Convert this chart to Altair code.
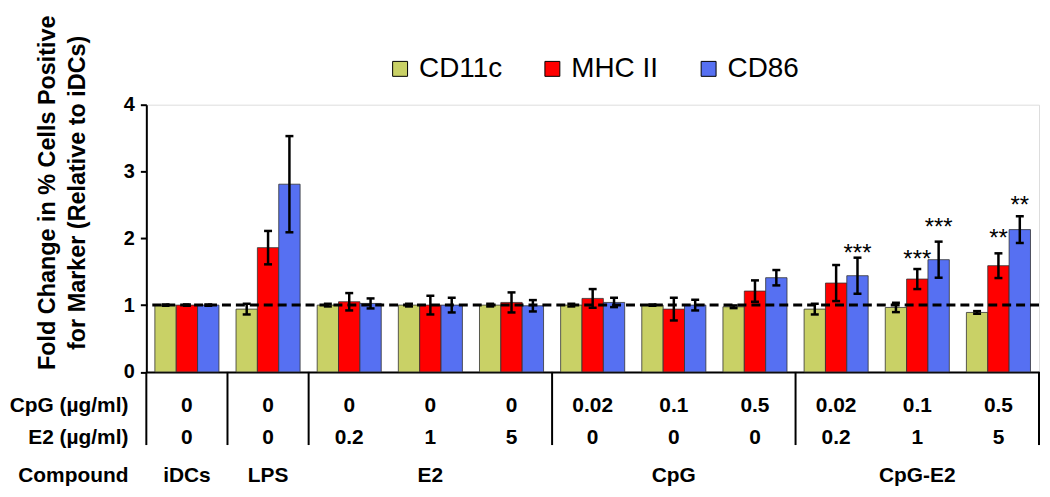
import altair as alt
import pandas as pd

groups = ["iDCs", "LPS", "E2 0.2", "E2 1", "E2 5", "CpG 0.02", "CpG 0.1", "CpG 0.5",
          "CpG-E2 0.02", "CpG-E2 0.1", "CpG-E2 0.5"]
series = ["CD11c", "MHC II", "CD86"]
colors = ["#c9d166", "#ff0000", "#5670f2"]

cd11c = [1.00, 0.94, 1.00, 1.00, 1.00, 1.00, 1.00, 0.975, 0.94, 0.965, 0.89]
cd11c_err = [0.01, 0.08, 0.02, 0.02, 0.02, 0.02, 0.01, 0.02, 0.08, 0.07, 0.02]
mhc = [1.00, 1.86, 1.05, 1.00, 1.04, 1.10, 0.94, 1.21, 1.33, 1.39, 1.59]
mhc_err = [0.01, 0.25, 0.13, 0.14, 0.15, 0.14, 0.17, 0.16, 0.27, 0.15, 0.185]
cd86 = [1.00, 2.81, 1.025, 1.00, 0.99, 1.04, 1.00, 1.41, 1.44, 1.68, 2.13]
cd86_err = [0.01, 0.72, 0.075, 0.11, 0.085, 0.07, 0.08, 0.115, 0.27, 0.27, 0.20]

cpg_row = ["0", "0", "0", "0", "0", "0.02", "0.1", "0.5", "0.02", "0.1", "0.5"]
e2_row = ["0", "0", "0.2", "1", "5", "0", "0", "0", "0.2", "1", "5"]
compound_groups = ["iDCs", "LPS", "E2 1", "CpG 0.1", "CpG-E2 0.1"]
compound_names = ["iDCs", "LPS", "E2", "CpG", "CpG-E2"]
row_titles = ["CpG (\u00b5g/ml)", "E2 (\u00b5g/ml)", "Compound"]

sig_groups = ["CpG-E2 0.02", "CpG-E2 0.1", "CpG-E2 0.1", "CpG-E2 0.5", "CpG-E2 0.5"]
sig_series = ["CD86", "MHC II", "CD86", "MHC II", "CD86"]
sig_text = ["***", "***", "***", "**", "**"]
sig_pos = [1.86, 1.76, 2.25, 2.08, 2.57]

sep_left = ["iDCs", "LPS", "E2 0.2", "CpG 0.02", "CpG-E2 0.02"]
sep_right = ["CpG-E2 0.5"]

rows = []
for s, vals, errs in zip(series, [cd11c, mhc, cd86], [cd11c_err, mhc_err, cd86_err]):
    for g, v, e in zip(groups, vals, errs):
        rows.append({"g": g, "s": s, "v": v, "lo": v - e, "hi": v + e})
df = pd.DataFrame(rows)

W, H = 897, 268.5
FONT = "Liberation Sans"

xs = alt.Scale(domain=groups, paddingInner=0, paddingOuter=0)
xo = alt.Scale(domain=series, paddingInner=0, paddingOuter=0.4)
ys = alt.Scale(domain=[0, 4], nice=False)

X = alt.X("g:N", scale=xs, axis=alt.Axis(labels=False, ticks=False, title=None,
                                         domainColor="black", domainWidth=2))
XO = alt.XOffset("s:N", scale=xo)

bars = alt.Chart(df).mark_bar(stroke="#333333", strokeWidth=0.8).encode(
    x=X, xOffset=XO,
    y=alt.Y("v:Q", scale=ys, axis=alt.Axis(
        values=[0, 1, 2, 3, 4], format="d", grid=False, domainColor="black", domainWidth=2,
        tickColor="black", tickWidth=2, tickSize=6, labelFontSize=20, labelFont=FONT,
        labelFontWeight="bold", labelColor="black", labelPadding=6,
        title=["Fold Change in % Cells Positive", "for Marker (Relative to iDCs)"],
        titleFontSize=23.5, titleFont=FONT, titleFontWeight="bold", titleColor="black",
        titleLineHeight=30, titleX=-99, titleY=88, titleAngle=270,
        titleAlign="center", titleBaseline="middle")),
    color=alt.Color("s:N", scale=alt.Scale(domain=series, range=colors),
                    legend=alt.Legend(title=None, orient="none", direction="horizontal",
                                      legendX=241, legendY=-50, symbolType="square",
                                      symbolSize=225, symbolStrokeColor="black",
                                      symbolStrokeWidth=1, symbolOpacity=1,
                                      labelFontSize=28, labelFont=FONT, labelColor="black",
                                      labelOffset=5, columnPadding=36)),
)

dash = alt.Chart(pd.DataFrame({"y": [1]})).mark_rule(
    color="black", strokeWidth=3, strokeDash=[9, 5]).encode(y=alt.Y("y:Q", scale=ys))

err_rule = alt.Chart(df).mark_rule(color="black", strokeWidth=2.5).encode(
    x=X, xOffset=XO, y=alt.Y("lo:Q", scale=ys), y2="hi:Q")
cap_lo = alt.Chart(df).mark_tick(color="black", thickness=2.5, size=8, opacity=1).encode(
    x=X, xOffset=XO, y=alt.Y("lo:Q", scale=ys))
cap_hi = alt.Chart(df).mark_tick(color="black", thickness=2.5, size=8, opacity=1).encode(
    x=X, xOffset=XO, y=alt.Y("hi:Q", scale=ys))

sig_df = pd.DataFrame({"g": sig_groups, "s": sig_series, "t": sig_text, "p": sig_pos})
sig = alt.Chart(sig_df).mark_text(fontSize=24, font=FONT, color="black",
                                  baseline="alphabetic", dy=13).encode(
    x=X, xOffset=XO, y=alt.Y("p:Q", scale=ys), text="t:N")

sep_l = alt.Chart(pd.DataFrame({"g": sep_left})).mark_rule(color="black", strokeWidth=2).encode(
    x=alt.X("g:N", scale=xs, bandPosition=0), y=alt.value(H), y2=alt.value(342))
sep_r = alt.Chart(pd.DataFrame({"g": sep_right})).mark_rule(color="black", strokeWidth=2).encode(
    x=alt.X("g:N", scale=xs, bandPosition=1), y=alt.value(H), y2=alt.value(342))

tbl = pd.DataFrame({"g": groups, "cpg": cpg_row, "e2": e2_row})
txt_kw = dict(fontSize=21, font=FONT, fontWeight="bold", color="black", baseline="middle")
t_cpg = alt.Chart(tbl).mark_text(**txt_kw).encode(
    x=alt.X("g:N", scale=xs), y=alt.value(303), text="cpg:N")
t_e2 = alt.Chart(tbl).mark_text(**txt_kw).encode(
    x=alt.X("g:N", scale=xs), y=alt.value(335), text="e2:N")
t_cmp = alt.Chart(pd.DataFrame({"g": compound_groups, "n": compound_names})).mark_text(**txt_kw).encode(
    x=alt.X("g:N", scale=xs), y=alt.value(373.5), text="n:N")

hdr = pd.DataFrame({"t": row_titles, "yy": [303, 335, 373.5]})
t_hdr = alt.Chart(hdr).mark_text(align="right", **txt_kw).encode(
    x=alt.value(-18), y=alt.Y("yy:Q", scale=None), text="t:N")

chart = alt.layer(bars, dash, err_rule, cap_lo, cap_hi, sig, sep_l, sep_r,
                  t_cpg, t_e2, t_cmp, t_hdr).properties(
    width=W, height=H,
    autosize=alt.AutoSizeParams(type="none"),
    padding={"left": 139, "top": 96, "right": 3, "bottom": 116.5},
).configure_view(stroke=None).configure(background="white")

chart.save("out.html", embed_options={"renderer": "svg", "actions": False})
